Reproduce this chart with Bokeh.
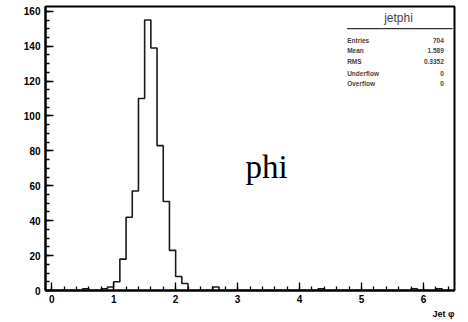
from bokeh.plotting import figure
from bokeh.models import Range1d, FixedTicker, Label, Title
from bokeh.embed import file_html
from bokeh.resources import INLINE
import numpy as np

# ---- data ----
hist_name = "jetphi"
x_min, x_max, n_bins = -0.1, 6.5, 66
counts = [
    0, 0, 0, 0, 0, 0, 1, 0, 0, 1,      # -0.1 .. 0.8
    2, 5, 18, 42, 57, 110, 155, 139, 83, 51,   # 0.9 .. 1.8
    23, 8, 4, 0, 0, 0, 0, 2, 0, 0,     # 1.9 .. 2.8
    0, 0, 0, 0, 0, 0, 0, 0, 0, 0,      # 2.9 .. 3.8
    0, 0, 0, 0, 1, 0, 0, 0, 0, 0,      # 3.9 .. 4.8
    0, 0, 0, 0, 0, 0, 0, 0, 0, 1,      # 4.9 .. 5.8
    0, 0, 0, 1, 0, 0,                  # 5.9 .. 6.4
]
x_ticks = [0, 1, 2, 3, 4, 5, 6]
y_ticks = [0, 20, 40, 60, 80, 100, 120, 140, 160]
stat_names = ["Entries", "Mean", "RMS", "Underflow", "Overflow"]
stat_values = ["704", "1.589", "0.3352", "0", "0"]
x_title = "Jet \u03c6"
center_text = "phi"

edges = np.linspace(x_min, x_max, n_bins + 1)
y_max = 1.05 * max(counts)

p = figure(width=468, height=322, output_backend="svg", toolbar_location=None,
           x_range=Range1d(x_min, x_max), y_range=Range1d(0, y_max),
           min_border_left=45, min_border_right=14, min_border_top=6,
           min_border_bottom=32)
p.background_fill_color = "white"
p.border_fill_color = "white"
p.outline_line_color = "black"
p.outline_line_width = 2
p.xgrid.visible = False
p.ygrid.visible = False

xs = list(edges)
ys = list(counts) + [counts[-1]]
p.step(xs, ys, mode="after", line_color="#1a1a1a", line_width=1.6)

for ax in (p.xaxis[0], p.yaxis[0]):
    ax.axis_line_width = 2
    ax.axis_line_color = "black"
    ax.major_tick_in = 8
    ax.major_tick_out = 0
    ax.minor_tick_in = 4
    ax.minor_tick_out = 0
    ax.major_tick_line_width = 1.3
    ax.minor_tick_line_width = 1.3
    ax.major_label_text_font = "Liberation Sans"
    ax.major_label_text_font_style = "bold"
    ax.major_label_text_font_size = "10px"
    ax.major_label_text_color = "black"

p.xaxis[0].ticker = FixedTicker(ticks=x_ticks,
                                minor_ticks=[round(v, 1) for v in np.arange(0, 6.41, 0.2)])
p.yaxis[0].ticker = FixedTicker(ticks=y_ticks,
                                minor_ticks=list(range(0, 161, 5)))
p.xaxis[0].major_label_standoff = 4
p.yaxis[0].major_label_standoff = 5

# axis title (below, right-aligned)
p.add_layout(Title(text=x_title, align="right", text_font="Liberation Sans",
                   text_font_style="bold", text_font_size="9px",
                   text_color="black", offset=0, standoff=2), "below")

# center text
p.add_layout(Label(x=3.127, y=70.7, text=center_text, text_align="left",
                   text_baseline="alphabetic", text_font="Liberation Serif",
                   text_font_size="33px", text_color="black"))

# stats box
p.add_layout(Label(x=5.596, y=156.2, text=hist_name, text_align="center",
                   text_baseline="middle", text_font="Liberation Sans",
                   text_font_size="12px"))
p.line([4.768, 6.47], [150.1, 150.1], line_color="#333333", line_width=1.2)
row_y = [143.5, 137.5, 131.2, 124.5, 118.5]
for yy, nm, vv in zip(row_y, stat_names, stat_values):
    p.add_layout(Label(x=4.768, y=yy, text=nm, text_align="left",
                       text_baseline="middle", text_font="Liberation Sans",
                       text_font_style="bold", text_font_size="6.5px"))
    p.add_layout(Label(x=6.327, y=yy, text=vv, text_align="right",
                       text_baseline="middle", text_font="Liberation Sans",
                       text_font_style="bold", text_font_size="6.5px"))

open("out.html", "w").write(file_html(p, INLINE))
